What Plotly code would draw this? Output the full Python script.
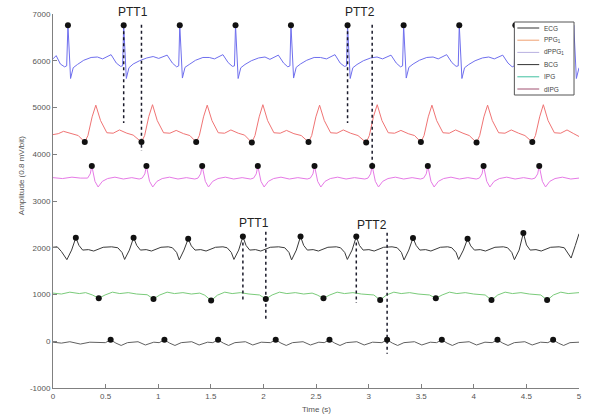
import plotly.graph_objects as go

# ---------------- data ----------------
ecg_t = [0.000, 0.030, 0.070, 0.110, 0.130,
         0.142, 0.167, 0.192, 0.232, 0.292, 0.362, 0.422,
         0.472, 0.552, 0.602, 0.642, 0.662, 0.672, 0.697, 0.722, 0.762, 0.822, 0.892, 0.952,
         1.005, 1.085, 1.135, 1.175, 1.195, 1.205, 1.230, 1.255, 1.295, 1.355, 1.425, 1.485,
         1.535, 1.615, 1.665, 1.705, 1.725, 1.735, 1.760, 1.785, 1.825, 1.885, 1.955, 2.015,
         2.062, 2.142, 2.192, 2.232, 2.252, 2.262, 2.287, 2.312, 2.352, 2.412, 2.482, 2.542,
         2.600, 2.680, 2.730, 2.770, 2.790, 2.800, 2.825, 2.850, 2.890, 2.950, 3.020, 3.080,
         3.133, 3.213, 3.263, 3.303, 3.323, 3.333, 3.358, 3.383, 3.423, 3.483, 3.553, 3.613,
         3.662, 3.742, 3.792, 3.832, 3.852, 3.862, 3.887, 3.912, 3.952, 4.012, 4.082, 4.142,
         4.195, 4.275, 4.325, 4.365, 4.385, 4.395, 4.420, 4.445, 4.485, 4.545, 4.615, 4.675,
         4.750, 4.830, 4.880, 4.920, 4.940, 4.950, 4.975, 5.000]
ecg_v = [6040, 6110, 5930, 5870, 5890,
         6760, 5620, 5850, 5920, 6010, 6070, 6080,
         6040, 6130, 5950, 5880, 5890, 6760, 5620, 5850, 5930, 6000, 6060, 6090,
         6050, 6120, 5950, 5870, 5890, 6760, 5630, 5860, 5920, 6010, 6070, 6070,
         6040, 6130, 5960, 5880, 5890, 6760, 5620, 5850, 5920, 6000, 6060, 6080,
         6030, 6120, 5950, 5870, 5890, 6760, 5630, 5860, 5930, 6010, 6070, 6070,
         6040, 6130, 5950, 5880, 5890, 6760, 5620, 5850, 5920, 6000, 6060, 6080,
         6040, 6120, 5950, 5870, 5890, 6760, 5630, 5860, 5930, 6010, 6070, 6080,
         6040, 6130, 5960, 5880, 5890, 6760, 5620, 5850, 5920, 6000, 6060, 6080,
         6040, 6120, 5950, 5870, 5890, 6760, 5630, 5860, 5930, 6010, 6070, 6080,
         6040, 6130, 5950, 5880, 5890, 6760, 5620, 5850]

ppg_t = [0.000, 0.050, 0.100, 0.170, 0.240,
         0.302, 0.332, 0.372, 0.407, 0.452, 0.512, 0.572, 0.632, 0.702, 0.762,
         0.841, 0.871, 0.911, 0.946, 0.991, 1.051, 1.111, 1.171, 1.241, 1.301,
         1.361, 1.391, 1.431, 1.466, 1.511, 1.571, 1.631, 1.691, 1.761, 1.821,
         1.890, 1.920, 1.960, 1.995, 2.040, 2.100, 2.160, 2.220, 2.290, 2.360,
         2.429, 2.459, 2.499, 2.534, 2.579, 2.639, 2.699, 2.759, 2.829, 2.899,
         2.977, 3.007, 3.047, 3.082, 3.127, 3.187, 3.247, 3.307, 3.377, 3.437,
         3.497, 3.527, 3.567, 3.602, 3.647, 3.707, 3.767, 3.827, 3.897, 3.957,
         4.026, 4.056, 4.096, 4.131, 4.176, 4.236, 4.296, 4.356, 4.426, 4.486,
         4.556, 4.586, 4.626, 4.661, 4.706, 4.766, 4.826, 4.886, 4.950, 5.000]
ppg_v = [4420, 4440, 4490, 4440, 4400,
         4260, 4400, 4800, 5050, 4720, 4460, 4450, 4520, 4450, 4410,
         4260, 4400, 4810, 5060, 4720, 4460, 4450, 4510, 4440, 4400,
         4260, 4400, 4800, 5050, 4720, 4460, 4450, 4520, 4450, 4410,
         4250, 4400, 4800, 5060, 4720, 4460, 4450, 4510, 4440, 4400,
         4260, 4400, 4800, 5050, 4720, 4460, 4450, 4520, 4450, 4400,
         4250, 4400, 4810, 5060, 4720, 4460, 4450, 4510, 4440, 4400,
         4260, 4400, 4800, 5050, 4720, 4460, 4450, 4520, 4450, 4400,
         4250, 4400, 4800, 5050, 4720, 4460, 4450, 4520, 4450, 4400,
         4260, 4400, 4800, 5060, 4720, 4460, 4450, 4520, 4440, 4380]

dppg_t = [0.000, 0.090, 0.180, 0.260,
          0.329, 0.354, 0.369, 0.399, 0.429, 0.469, 0.519, 0.589, 0.669, 0.749, 0.819,
          0.848, 0.873, 0.888, 0.918, 0.948, 0.988, 1.038, 1.108, 1.188, 1.268, 1.348,
          1.378, 1.403, 1.418, 1.448, 1.478, 1.518, 1.568, 1.638, 1.718, 1.798, 1.877,
          1.907, 1.932, 1.947, 1.977, 2.007, 2.047, 2.097, 2.167, 2.247, 2.327, 2.416,
          2.446, 2.471, 2.486, 2.516, 2.546, 2.586, 2.636, 2.706, 2.786, 2.866, 2.964,
          2.994, 3.019, 3.034, 3.064, 3.094, 3.134, 3.184, 3.254, 3.334, 3.414, 3.493,
          3.523, 3.548, 3.563, 3.593, 3.623, 3.663, 3.713, 3.783, 3.863, 3.943, 4.023,
          4.053, 4.078, 4.093, 4.123, 4.153, 4.193, 4.243, 4.313, 4.393, 4.473, 4.552,
          4.582, 4.607, 4.622, 4.652, 4.682, 4.722, 4.772, 4.842, 4.922, 5.000]
dppg_v = [3500, 3480, 3510, 3490,
          3490, 3580, 3750, 3420, 3300, 3420, 3480, 3510, 3470, 3500, 3470,
          3490, 3580, 3750, 3420, 3300, 3420, 3480, 3510, 3470, 3500, 3470,
          3490, 3580, 3750, 3420, 3300, 3420, 3480, 3510, 3470, 3500, 3470,
          3490, 3580, 3750, 3420, 3300, 3420, 3480, 3510, 3470, 3500, 3470,
          3490, 3580, 3750, 3420, 3300, 3420, 3480, 3510, 3470, 3500, 3470,
          3490, 3580, 3750, 3420, 3300, 3420, 3480, 3510, 3470, 3500, 3470,
          3490, 3580, 3750, 3420, 3300, 3420, 3480, 3510, 3470, 3500, 3470,
          3490, 3580, 3750, 3420, 3300, 3420, 3480, 3510, 3470, 3500, 3470,
          3490, 3580, 3750, 3420, 3300, 3420, 3480, 3510, 3470, 3490]

bcg_t = [0.000, 0.040, 0.080, 0.132, 0.177, 0.217, 0.247, 0.282, 0.337, 0.387, 0.477, 0.557,
         0.616, 0.656, 0.681, 0.726, 0.766, 0.796, 0.831, 0.886, 0.936, 1.026, 1.096,
         1.135, 1.175, 1.200, 1.245, 1.285, 1.315, 1.350, 1.405, 1.455, 1.545, 1.615,
         1.655, 1.695, 1.720, 1.765, 1.805, 1.835, 1.870, 1.925, 1.975, 2.065, 2.145,
         2.203, 2.243, 2.268, 2.313, 2.353, 2.383, 2.418, 2.473, 2.523, 2.613, 2.693,
         2.733, 2.773, 2.798, 2.843, 2.883, 2.913, 2.948, 3.003, 3.053, 3.143, 3.223,
         3.272, 3.312, 3.337, 3.382, 3.422, 3.452, 3.487, 3.542, 3.592, 3.682, 3.752,
         3.791, 3.831, 3.856, 3.901, 3.941, 3.971, 4.006, 4.061, 4.111, 4.201, 4.281,
         4.321, 4.361, 4.386, 4.431, 4.471, 4.501, 4.536, 4.591, 4.641, 4.731, 4.811,
         4.860, 4.900, 4.925, 4.965, 5.000]
bcg_v = [2010, 2020, 1920, 1745, 1950, 2215, 2050, 1950, 1960, 1930, 2010, 2020,
         2000, 1900, 1750, 1950, 2215, 2050, 1950, 1960, 1930, 2010, 2020,
         2000, 1900, 1740, 1950, 2190, 2040, 1950, 1960, 1930, 2010, 2020,
         2000, 1900, 1750, 1950, 2240, 2050, 1950, 1960, 1930, 2010, 2020,
         2000, 1900, 1740, 1950, 2240, 2050, 1950, 1960, 1930, 2010, 2020,
         2000, 1900, 1750, 1950, 2240, 2050, 1950, 1960, 1930, 2010, 2020,
         2000, 1900, 1740, 1950, 2210, 2050, 1950, 1960, 1930, 2010, 2020,
         2000, 1900, 1750, 1950, 2190, 2040, 1950, 1960, 1930, 2010, 2020,
         2000, 1900, 1745, 1950, 2316, 2060, 1950, 1960, 1930, 2010, 2020,
         2000, 1880, 1780, 2050, 2300]

ipg_t = [0.000, 0.080, 0.160, 0.250, 0.310, 0.375,
         0.435, 0.495, 0.565, 0.635, 0.715, 0.795, 0.895,
         0.955, 1.015, 1.085, 1.155, 1.235, 1.315, 1.395, 1.443,
         1.503, 1.563, 1.633, 1.703, 1.783, 1.863, 1.963,
         2.023, 2.083, 2.153, 2.223, 2.303, 2.383, 2.463, 2.511,
         2.571, 2.631, 2.701, 2.771, 2.851, 2.931, 3.050,
         3.110, 3.170, 3.240, 3.310, 3.390, 3.470, 3.579,
         3.639, 3.699, 3.769, 3.839, 3.919, 3.999, 4.108,
         4.168, 4.228, 4.298, 4.368, 4.448, 4.528, 4.637,
         4.697, 4.757, 4.827, 4.897, 5.000]
ipg_v = [1030, 1010, 1050, 1020, 1040, 990,
         920, 990, 1050, 1020, 1040, 1010, 995,
         905, 990, 1050, 1020, 1040, 1010, 1030, 985,
         870, 985, 1050, 1020, 1040, 1010, 990,
         905, 990, 1050, 1020, 1040, 1010, 1030, 990,
         920, 990, 1050, 1020, 1040, 1010, 990,
         880, 990, 1050, 1020, 1040, 1010, 990,
         920, 990, 1050, 1020, 1040, 1010, 990,
         880, 990, 1050, 1020, 1040, 1010, 990,
         880, 990, 1050, 1020, 1040]

dipg_t = [0.000, 0.080, 0.160, 0.260, 0.350, 0.440, 0.498,
          0.548, 0.598, 0.648, 0.708, 0.808, 0.878, 0.958, 1.009,
          1.059, 1.109, 1.159, 1.219, 1.319, 1.389, 1.469, 1.519,
          1.569, 1.619, 1.669, 1.729, 1.829, 1.899, 1.979, 2.067,
          2.117, 2.167, 2.217, 2.277, 2.377, 2.447, 2.527, 2.578,
          2.628, 2.678, 2.728, 2.788, 2.888, 2.958, 3.038, 3.126,
          3.176, 3.226, 3.276, 3.336, 3.436, 3.506, 3.586, 3.646,
          3.696, 3.746, 3.796, 3.856, 3.956, 4.026, 4.106, 4.175,
          4.225, 4.275, 4.325, 4.385, 4.485, 4.555, 4.635, 4.704,
          4.754, 4.804, 4.854, 4.914, 5.000]
dipg_v = [-20, -40, -10, -60, -20, -30, -30,
          30, -40, -90, -30, -10, -80, -20, -30,
          30, -40, -90, -30, -10, -80, -20, -30,
          30, -40, -90, -30, -10, -80, -20, -30,
          30, -40, -90, -30, -10, -80, -20, -30,
          30, -40, -90, -30, -10, -80, -20, -30,
          30, -40, -90, -30, -10, -80, -20, -30,
          30, -40, -90, -30, -10, -80, -20, -30,
          30, -40, -90, -30, -10, -80, -20, -30,
          30, -40, -90, -30, -20]

# fiducial points (black dots)
ecg_peak_t = [0.142, 0.672, 1.205, 1.735, 2.262, 2.800, 3.333, 3.862, 4.395]
ecg_peak_v = [6760, 6760, 6760, 6760, 6760, 6760, 6760, 6760, 6760]
ppg_foot_t = [0.302, 0.841, 1.361, 1.890, 2.429, 2.977, 3.497, 4.026, 4.556]
ppg_foot_v = [4260, 4260, 4260, 4250, 4260, 4250, 4260, 4250, 4260]
dppg_peak_t = [0.369, 0.888, 1.418, 1.947, 2.486, 3.034, 3.563, 4.093, 4.622]
dppg_peak_v = [3750, 3750, 3750, 3750, 3750, 3750, 3750, 3750, 3750]
bcg_peak_t = [0.217, 0.766, 1.285, 1.805, 2.353, 2.883, 3.422, 3.941, 4.471]
bcg_peak_v = [2215, 2215, 2190, 2240, 2240, 2240, 2210, 2190, 2316]
ipg_foot_t = [0.435, 0.955, 1.503, 2.023, 2.571, 3.110, 3.639, 4.168, 4.697]
ipg_foot_v = [920, 905, 870, 905, 920, 880, 920, 880, 880]
dipg_peak_t = [0.548, 1.059, 1.569, 2.117, 2.628, 3.176, 3.696, 4.225, 4.754]
dipg_peak_v = [30, 30, 30, 30, 30, 30, 30, 30, 30]

# PTT marker lines
ptt_line_t = [0.672, 0.841, 2.800, 3.034, 1.805, 2.023, 2.883, 3.176]
ptt_line_top = [6760, 6770, 6760, 6770, 2240, 2340, 2240, 2320]
ptt_line_bot = [4670, 4070, 4670, 3750, 880, 450, 820, -270]
ptt_text = ["PTT1", "PTT2", "PTT1", "PTT2"]
ptt_text_t = [0.757, 2.917, 1.914, 3.030]
ptt_text_v = [7040, 7040, 2530, 2490]

series_names = ["ECG", "PPG<sub>1</sub>", "dPPG<sub>1</sub>", "BCG", "IPG", "dIPG"]
series_colors = ["#6f6fee", "#f07474", "#e67ae6", "#3a3a3a", "#7acb7a", "#606060"]
legend_colors = ["#333333", "#f0a070", "#b8b0e0", "#333333", "#40c0a0", "#a05070"]

x_ticks = [0, 0.5, 1, 1.5, 2, 2.5, 3, 3.5, 4, 4.5, 5]
x_tick_text = ["0", "0.5", "1", "1.5", "2", "2.5", "3", "3.5", "4", "4.5", "5"]
y_ticks = [-1000, 0, 1000, 2000, 3000, 4000, 5000, 6000, 7000]
y_tick_text = ["-1000", "0", "1000", "2000", "3000", "4000", "5000", "6000", "7000"]

# ---------------- figure ----------------
W, H = 590, 415
ML, MR, MT, MB = 53, 8, 14, 27
PW, PH = W - ML - MR, H - MT - MB
Y0, Y1 = -1000, 7000


def px_x(p):
    return (p - ML) / PW


def px_y(p):
    return (H - MB - p) / PH


fig = go.Figure()
sig_t = [ecg_t, ppg_t, dppg_t, bcg_t, ipg_t, dipg_t]
sig_v = [ecg_v, ppg_v, dppg_v, bcg_v, ipg_v, dipg_v]
for t, v, c in zip(sig_t, sig_v, series_colors):
    fig.add_trace(go.Scatter(x=t, y=v, mode="lines", line=dict(color=c, width=1),
                             showlegend=False, hoverinfo="skip"))

for t0, a, b in zip(ptt_line_t, ptt_line_top, ptt_line_bot):
    fig.add_trace(go.Scatter(x=[t0, t0], y=[a, b], mode="lines",
                             line=dict(color="#1a1a2a", width=1.5, dash="dot"),
                             showlegend=False, hoverinfo="skip"))

dot_t = [ecg_peak_t, ppg_foot_t, dppg_peak_t, bcg_peak_t, ipg_foot_t, dipg_peak_t]
dot_v = [ecg_peak_v, ppg_foot_v, dppg_peak_v, bcg_peak_v, ipg_foot_v, dipg_peak_v]
for t, v in zip(dot_t, dot_v):
    fig.add_trace(go.Scatter(x=t, y=v, mode="markers",
                             marker=dict(color="#111111", size=6),
                             showlegend=False, hoverinfo="skip"))

annotations = []
for s, t0, v0 in zip(ptt_text, ptt_text_t, ptt_text_v):
    annotations.append(dict(x=t0, y=(v0 - Y0) / (Y1 - Y0), xref="x", yref="paper",
                            text=s, showarrow=False, yanchor="middle", xanchor="center",
                            font=dict(family="Liberation Sans", size=12, color="#222222")))

# axis titles
annotations.append(dict(x=px_x(22), y=px_y(176), xref="paper", yref="paper",
                        text="Amplitude (0.8 mV/bit)", textangle=-90, showarrow=False,
                        xanchor="center", yanchor="middle",
                        font=dict(family="Liberation Sans", size=8, color="#555555")))
annotations.append(dict(x=px_x(318), y=px_y(409), xref="paper", yref="paper",
                        text="Time (s)", showarrow=False, xanchor="center", yanchor="middle",
                        font=dict(family="Liberation Sans", size=8, color="#555555")))

# compact legend box
shapes = [dict(type="rect", xref="paper", yref="paper",
               x0=px_x(517), x1=px_x(577), y0=px_y(95), y1=px_y(22),
               fillcolor="white", line=dict(color="#555555", width=1), layer="above")]
for i, (name, col) in enumerate(zip(series_names, legend_colors)):
    yc = 28 + 12.2 * i
    shapes.append(dict(type="line", xref="paper", yref="paper",
                       x0=px_x(520), x1=px_x(542), y0=px_y(yc), y1=px_y(yc),
                       line=dict(color=col, width=1), layer="above"))
    annotations.append(dict(x=px_x(545), y=px_y(yc), xref="paper", yref="paper",
                            text=name, showarrow=False, xanchor="left", yanchor="middle",
                            font=dict(family="Liberation Sans", size=6.5, color="#444444")))

axis_common = dict(showline=True, linecolor="#808080", linewidth=1, ticks="inside",
                   ticklen=4, tickcolor="#808080", showgrid=False, zeroline=False,
                   tickfont=dict(family="Liberation Sans", size=8, color="#555555"))

fig.update_layout(
    width=W, height=H,
    margin=dict(l=ML, r=MR, t=MT, b=MB),
    paper_bgcolor="white", plot_bgcolor="white",
    xaxis=dict(range=[0, 5], tickvals=x_ticks, ticktext=x_tick_text, **axis_common),
    yaxis=dict(range=[Y0, Y1], tickvals=y_ticks, ticktext=y_tick_text, **axis_common),
    annotations=annotations, shapes=shapes, showlegend=False,
)

fig.write_html("out.html", config={"displayModeBar": False},
               post_script="document.body.style.margin='0px';")
